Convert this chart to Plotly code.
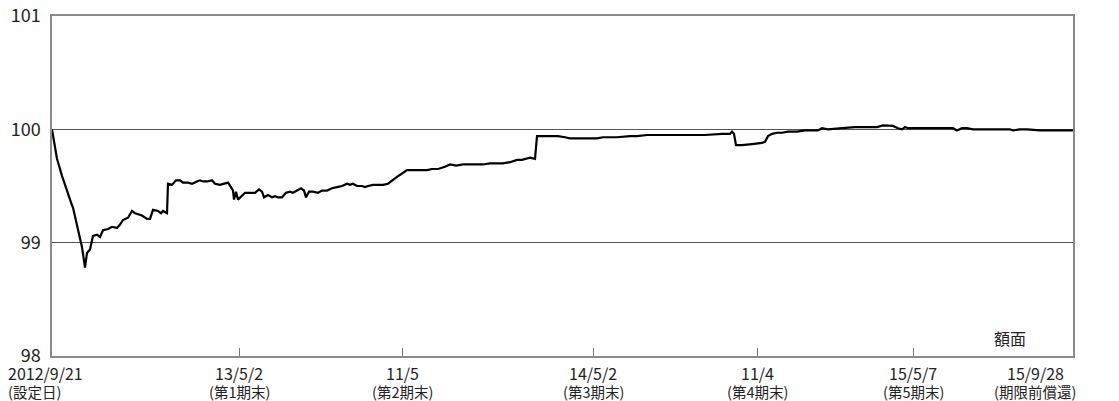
import plotly.graph_objects as go

# elapsed observation index (0 = 2012/9/21 設定日, 1021 = 15/9/28 期限前償還)
day = [0, 5, 10, 15, 20, 21, 25, 30, 33, 35, 38, 41, 45, 48, 51, 56, 60, 65, 68, 71,
       76, 80, 83, 86, 90, 95, 98, 101, 104, 106, 109, 111, 115, 116, 120, 124, 128, 131, 136, 140,
       145, 148, 151, 155, 160, 163, 168, 171, 176, 179, 181, 182, 184, 186, 190, 193, 203, 207, 210, 212,
       216, 220, 223, 226, 230, 234, 238, 241, 245, 249, 252, 254, 257, 261, 266, 270, 275, 280, 285, 290,
       295, 298, 301, 305, 310, 313, 316, 321, 326, 331, 336, 340, 345, 350, 355, 358, 363, 370, 375, 380,
       386, 393, 398, 404, 411, 418, 425, 431, 438, 445, 451, 458, 465, 470, 473, 478, 483, 485, 490, 496,
       501, 506, 513, 518, 531, 545, 551, 565, 578, 585, 595, 601, 606, 613, 630, 653, 670, 678, 680, 682,
       684, 690, 700, 710, 713, 716, 720, 725, 730, 736, 745, 753, 766, 770, 776, 785, 790, 803, 813, 825,
       831, 841, 846, 850, 853, 856, 875, 901, 905, 910, 915, 921, 941, 958, 961, 968, 975, 988, 1008, 1015,
       1021]
nav = [100.00, 99.74, 99.59, 99.45, 99.33, 99.31, 99.14, 98.96, 98.78, 98.91, 98.94, 99.06, 99.07, 99.05, 99.11, 99.12, 99.14, 99.13, 99.16, 99.20,
       99.22, 99.28, 99.26, 99.25, 99.24, 99.21, 99.21, 99.29, 99.28, 99.28, 99.26, 99.28, 99.26, 99.52, 99.51, 99.55, 99.55, 99.53, 99.53, 99.52,
       99.54, 99.55, 99.54, 99.54, 99.55, 99.52, 99.51, 99.52, 99.53, 99.49, 99.46, 99.38, 99.45, 99.38, 99.42, 99.44, 99.44, 99.47, 99.45, 99.40,
       99.42, 99.40, 99.41, 99.40, 99.40, 99.44, 99.45, 99.44, 99.46, 99.48, 99.46, 99.40, 99.45, 99.45, 99.44, 99.46, 99.46, 99.48, 99.49, 99.50,
       99.52, 99.51, 99.52, 99.50, 99.50, 99.49, 99.50, 99.51, 99.51, 99.51, 99.52, 99.55, 99.58, 99.61, 99.64, 99.64, 99.64, 99.64, 99.64, 99.65,
       99.65, 99.67, 99.69, 99.68, 99.69, 99.69, 99.69, 99.69, 99.70, 99.70, 99.70, 99.71, 99.73, 99.73, 99.74, 99.75, 99.74, 99.94, 99.94, 99.94,
       99.94, 99.94, 99.93, 99.92, 99.92, 99.92, 99.93, 99.93, 99.94, 99.94, 99.95, 99.95, 99.95, 99.95, 99.95, 99.95, 99.96, 99.96, 99.98, 99.96,
       99.86, 99.86, 99.87, 99.88, 99.89, 99.94, 99.96, 99.97, 99.97, 99.98, 99.98, 99.99, 99.99, 100.01, 100.00, 100.01, 100.01, 100.02, 100.02, 100.02,
       100.035, 100.03, 100.01, 100.00, 100.02, 100.01, 100.01, 100.01, 99.99, 100.01, 100.01, 100.00, 100.00, 100.00, 99.99, 100.00, 100.00, 99.99, 99.99, 99.99,
       99.99]

tick_vals = [0, 187, 350, 541, 705, 861, 1021]
tick_line1 = ["2012/9/21", "13/5/2", "11/5", "14/5/2", "11/4", "15/5/7", "15/9/28"]
tick_line2 = ["(設定日)", "(第1期末)", "(第2期末)", "(第3期末)", "(第4期末)", "(第5期末)", "(期限前償還)"]
y_ticks = [98, 99, 100, 101]
face_label = "額面"

FONT = "Noto Sans CJK JP"
TXT = "#222222"

fig = go.Figure()
fig.add_trace(go.Scatter(x=day, y=nav, mode="lines",
                         line=dict(color="#000000", width=2.2), hoverinfo="skip",
                         showlegend=False))

annotations = []
n = len(tick_vals)
for i, (v, a, b) in enumerate(zip(tick_vals, tick_line1, tick_line2)):
    if i == 0:
        anchor, shift = "left", -45
    elif i == n - 1:
        anchor, shift = "center", -38
    else:
        anchor, shift = "center", 0
    annotations.append(dict(x=v, y=-0.05, xref="x", yref="paper", text=a, showarrow=False,
                            xanchor=anchor, yanchor="middle", xshift=shift, borderpad=0,
                            font=dict(family=FONT, size=16, color=TXT)))
    annotations.append(dict(x=v, y=-0.104, xref="x", yref="paper", text=b, showarrow=False,
                            xanchor=anchor, yanchor="middle", xshift=shift, borderpad=0,
                            font=dict(family=FONT, size=14.5, color=TXT)))

annotations.append(dict(x=tick_vals[-1], y=98.16, xref="x", yref="y", text=face_label,
                        showarrow=False, xanchor="right", yanchor="middle", xshift=-46,
                        borderpad=0, font=dict(family=FONT, size=16, color=TXT)))

fig.update_layout(
    width=1119, height=401,
    margin=dict(l=52, r=46, t=16, b=45),
    paper_bgcolor="white", plot_bgcolor="white",
    font=dict(family=FONT, color=TXT),
    annotations=annotations,
    xaxis=dict(range=[0, 1021], tickvals=tick_vals, showticklabels=False,
               ticks="inside", ticklen=8, tickcolor="#777777", tickwidth=1,
               showgrid=False, zeroline=False, automargin=False,
               showline=True, mirror=True, linecolor="#8a8a8a", linewidth=1.5),
    yaxis=dict(range=[98, 101], tickvals=y_ticks, ticks="",
               tickfont=dict(family=FONT, size=18, color=TXT),
               ticklabelstandoff=6, automargin=False,
               showgrid=True, gridcolor="#555555", gridwidth=1, zeroline=False,
               showline=True, mirror=True, linecolor="#8a8a8a", linewidth=1.5),
)

fig.write_html("out.html", config={"displayModeBar": False},
               post_script="document.body.style.margin='0';")
